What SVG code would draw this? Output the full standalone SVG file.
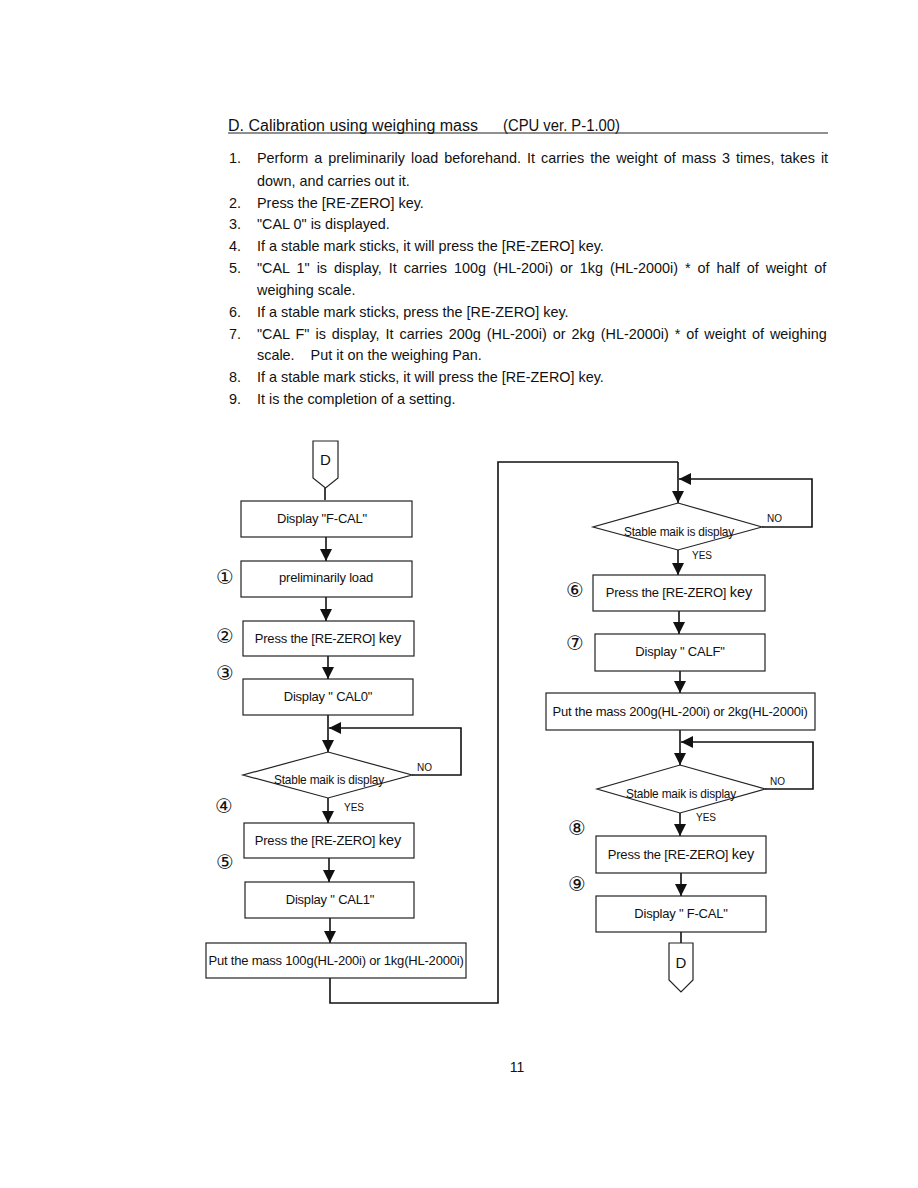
<svg xmlns="http://www.w3.org/2000/svg" width="918" height="1188" viewBox="0 0 918 1188">
<defs>
<marker id="ah" viewBox="0 0 10 10" refX="10" refY="5" markerUnits="userSpaceOnUse" markerWidth="12" markerHeight="12" orient="auto">
<path d="M0,0 L10,5 L0,10 z" fill="#111"/>
</marker>
<style>
.t{font-family:"Liberation Sans",Arial,sans-serif;fill:#111}
.body{font-size:14.4px}
.fc{font-size:13px;text-anchor:middle;letter-spacing:-0.2px}
.key{font-size:14.5px;letter-spacing:0}
.sm{font-size:10px}
.box{fill:#fff;stroke:#222;stroke-width:1.2}
.ln{fill:none;stroke:#111;stroke-width:1.6}
.ar{fill:none;stroke:#111;stroke-width:1.6;marker-end:url(#ah)}
.cn{font-family:"DejaVu Sans",sans-serif;font-size:20px;text-anchor:middle;fill:#111}
</style>
</defs>
<rect width="918" height="1188" fill="#fff"/>

<g id="header">
<text class="t" x="228" y="131" font-size="16" textLength="250" lengthAdjust="spacingAndGlyphs">D. Calibration using weighing mass</text>
<text class="t" x="503" y="131" font-size="16" textLength="117" lengthAdjust="spacingAndGlyphs">(CPU ver. P-1.00)</text>
<line x1="228" y1="133" x2="828" y2="133" stroke="#222" stroke-width="1.2"/>
</g>

<g id="steps" class="t body">
<text x="229" y="163">1.</text><text x="257" y="163" word-spacing="2">Perform a preliminarily load beforehand. It carries the weight of mass 3 times, takes it</text>
<text x="257" y="186">down, and carries out it.</text>
<text x="229" y="208">2.</text><text x="257" y="208">Press the [RE-ZERO] key.</text>
<text x="229" y="229">3.</text><text x="257" y="229">"CAL 0" is displayed.</text>
<text x="229" y="251">4.</text><text x="257" y="251">If a stable mark sticks, it will press the [RE-ZERO] key.</text>
<text x="229" y="273">5.</text><text x="257" y="273" word-spacing="3">"CAL 1" is display, It carries 100g (HL-200i) or 1kg (HL-2000i) * of half of weight of</text>
<text x="257" y="295">weighing scale.</text>
<text x="229" y="317">6.</text><text x="257" y="317">If a stable mark sticks, press the [RE-ZERO] key.</text>
<text x="229" y="339">7.</text><text x="257" y="339" word-spacing="2">"CAL F" is display, It carries 200g (HL-200i) or 2kg (HL-2000i) * of weight of weighing</text>
<text x="257" y="360" xml:space="preserve">scale.    Put it on the weighing Pan.</text>
<text x="229" y="382">8.</text><text x="257" y="382">If a stable mark sticks, it will press the [RE-ZERO] key.</text>
<text x="229" y="404">9.</text><text x="257" y="404">It is the completion of a setting.</text>
</g>

<g id="connectors">
<line class="ln" x1="325" y1="488" x2="325" y2="500"/>
<line class="ar" x1="326" y1="537" x2="326" y2="561"/>
<line class="ar" x1="326" y1="597" x2="326" y2="621"/>
<line class="ar" x1="328" y1="656" x2="328" y2="679"/>
<line class="ar" x1="328" y1="715" x2="328" y2="752"/>
<polyline class="ar" points="412,775 461,775 461,728 329,728"/>
<line class="ar" x1="328" y1="798" x2="328" y2="823"/>
<line class="ar" x1="329" y1="858" x2="329" y2="882"/>
<line class="ar" x1="330" y1="918" x2="330" y2="943"/>
<polyline class="ln" points="330,978 330,1003 498,1003 498,462 678,462"/>
<line class="ar" x1="678" y1="462" x2="678" y2="503"/>
<polyline class="ar" points="762,527 812,527 812,479 679,479"/>
<line class="ar" x1="678" y1="550" x2="678" y2="575"/>
<line class="ar" x1="679" y1="611" x2="679" y2="634"/>
<line class="ar" x1="680" y1="671" x2="680" y2="693"/>
<line class="ar" x1="680" y1="730" x2="680" y2="765"/>
<polyline class="ar" points="765,789 813,789 813,742 681,742"/>
<line class="ar" x1="680" y1="813" x2="680" y2="836"/>
<line class="ar" x1="681" y1="873" x2="681" y2="896"/>
<line class="ln" x1="681" y1="932" x2="681" y2="943"/>
</g>

<g id="labels" class="t sm">
<text x="417" y="771">NO</text>
<text x="344" y="811">YES</text>
<text x="767" y="522">NO</text>
<text x="692" y="559">YES</text>
<text x="770" y="785">NO</text>
<text x="696" y="821">YES</text>
</g>

<g id="startD">
<path class="box" d="M313,441 L338,441 L338,478 L325.5,488 L313,478 Z"/>
<text class="t" x="325.5" y="465" font-size="15" text-anchor="middle">D</text>
</g>
<g id="n_fcal">
<rect class="box" x="241" y="501" width="171" height="36"/>
<text class="t fc" x="322" y="523">Display "F-CAL"</text>
</g>
<g id="n_preload">
<rect class="box" x="241" y="561" width="171" height="36"/>
<text class="t fc" x="326" y="582">preliminarily load</text>
<text class="cn" x="225" y="584">①</text>
</g>
<g id="n_rezero1">
<rect class="box" x="243" y="621" width="171" height="35"/>
<text class="t fc" x="328" y="643">Press the [RE-ZERO] <tspan class="key">key</tspan></text>
<text class="cn" x="225" y="643">②</text>
</g>
<g id="n_cal0">
<rect class="box" x="243" y="679" width="170" height="36"/>
<text class="t fc" x="328" y="701">Display " CAL0"</text>
<text class="cn" x="225" y="680">③</text>
</g>
<g id="n_stable1">
<polygon class="box" points="328,752 412,775 328,798 243,775"/>
<text class="t fc" x="329" y="784" textLength="110" lengthAdjust="spacingAndGlyphs">Stable maik is display</text>
</g>
<g id="n_rezero2">
<rect class="box" x="244" y="823" width="170" height="35"/>
<text class="t fc" x="328" y="845">Press the [RE-ZERO] <tspan class="key">key</tspan></text>
<text class="cn" x="224" y="813">④</text>
<text class="cn" x="225" y="869">⑤</text>
</g>
<g id="n_cal1">
<rect class="box" x="245" y="882" width="169" height="36"/>
<text class="t fc" x="330" y="904">Display " CAL1"</text>
</g>
<g id="n_mass100">
<rect class="box" x="206" y="943" width="260" height="35"/>
<text class="t fc" x="336" y="965">Put the mass 100g(HL-200i) or 1kg(HL-2000i)</text>
</g>
<g id="n_stable2">
<polygon class="box" points="678,503 762,527 678,550 593,527"/>
<text class="t fc" x="679" y="536" textLength="110" lengthAdjust="spacingAndGlyphs">Stable maik is display</text>
</g>
<g id="n_rezero3">
<rect class="box" x="593" y="575" width="172" height="36"/>
<text class="t fc" x="679" y="597">Press the [RE-ZERO] <tspan class="key">key</tspan></text>
<text class="cn" x="575" y="597">⑥</text>
</g>
<g id="n_calf">
<rect class="box" x="595" y="634" width="170" height="37"/>
<text class="t fc" x="680" y="656">Display " CALF"</text>
<text class="cn" x="575" y="650">⑦</text>
</g>
<g id="n_mass200">
<rect class="box" x="546" y="693" width="269" height="37"/>
<text class="t fc" x="680" y="716">Put the mass 200g(HL-200i) or 2kg(HL-2000i)</text>
</g>
<g id="n_stable3">
<polygon class="box" points="680,765 765,789 680,813 597,789"/>
<text class="t fc" x="681" y="798" textLength="110" lengthAdjust="spacingAndGlyphs">Stable maik is display</text>
</g>
<g id="n_rezero4">
<rect class="box" x="596" y="836" width="170" height="37"/>
<text class="t fc" x="681" y="859">Press the [RE-ZERO] <tspan class="key">key</tspan></text>
<text class="cn" x="577" y="835">⑧</text>
<text class="cn" x="577" y="891">⑨</text>
</g>
<g id="n_fcal2">
<rect class="box" x="596" y="896" width="170" height="36"/>
<text class="t fc" x="681" y="918">Display " F-CAL"</text>
</g>
<g id="endD">
<path class="box" d="M669,943 L693,943 L693,980 L681,992 L669,980 Z"/>
<text class="t" x="681" y="968" font-size="15" text-anchor="middle">D</text>
</g>

<text class="t" x="517" y="1072" font-size="14" text-anchor="middle">11</text>
</svg>
